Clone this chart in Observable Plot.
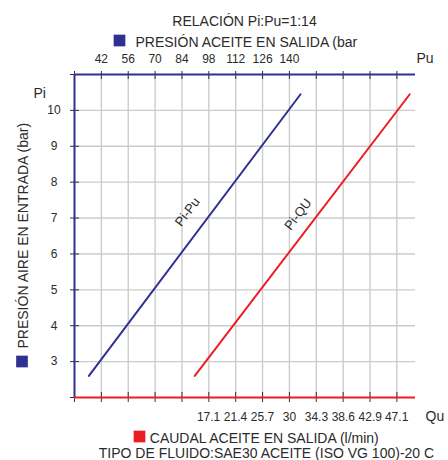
<!DOCTYPE html>
<html>
<head>
<meta charset="utf-8">
<script src="https://cdn.jsdelivr.net/npm/d3@7"></script>
<script src="https://cdn.jsdelivr.net/npm/@observablehq/plot@0.6"></script>
<style>
  html, body { margin: 0; padding: 0; background: #fff; }
</style>
</head>
<body>
<div id="chart"></div>
<script>
// ---- data ----
const piValues = [2.6, 10.45];      // Pi, air pressure in (bar)
const puValues = [35.5, 145.8];     // Pu, oil pressure out (bar)
const quValues = [14.9, 49.2];      // Qu, oil flow out (l/min)
const puTicks = [42, 56, 70, 84, 98, 112, 126, 140];
const tickPositions = [28, 42, 56, 70, 84, 98, 112, 126, 140, 154, 168, 182, 196];
const quTickLabels = ["17.1", "21.4", "25.7", "30", "34.3", "38.6", "42.9", "47.1"];
const piTicks = [3, 4, 5, 6, 7, 8, 9, 10];
const piTickMarks = [2, 3, 4, 5, 6, 7, 8, 9, 10, 11];
const lineLabels = ["Pi-Pu", "Pi-QU"];

const BLUE = "#2e3192";
const RED = "#ed1c24";
const GRID = "#cccccc";
const INK = "#2b2b2b";

// Qu shares the horizontal grid with Pu: one grid step = 14 bar = 30/7 l/min, Qu 0 at Pu 42
const quToX = q => 42 + q * 14 / (30 / 7);

const rows = piValues.map((p, i) => ({pi: p, pu: puValues[i], qu: quValues[i]}));
const t = 0.54;
const lerp = (a, b) => a + (b - a) * t;
const bluePoint = [{x: lerp(puValues[0], puValues[1]), y: lerp(piValues[0], piValues[1]), text: lineLabels[0]}];
const redPoint = [{x: quToX(lerp(quValues[0], quValues[1])), y: lerp(piValues[0], piValues[1]), text: lineLabels[1]}];

const chart = Plot.plot({
  width: 448,
  height: 460,
  marginLeft: 74,
  marginRight: 33,
  marginTop: 74,
  marginBottom: 63,
  x: {domain: [28, 205.7]},
  y: {domain: [2, 11]},
  style: {fontFamily: "'Liberation Sans', Arial, sans-serif", color: INK, background: "#fff"},
  marks: [
    // grid
    Plot.ruleX(tickPositions.slice(1), {stroke: GRID, strokeWidth: 1.4}),
    Plot.ruleY(piTicks, {stroke: GRID, strokeWidth: 1.4}),
    // tick marks (crossing the axis lines)
    Plot.axisY(piTickMarks, {anchor: "left", tickSize: 9, insetLeft: 5, tickFormat: () => "", stroke: "#333"}),
    Plot.axisX(tickPositions, {anchor: "top", tickSize: 8, insetTop: 4, tickFormat: () => "", stroke: "#333"}),
    Plot.axisX(tickPositions, {anchor: "bottom", tickSize: 10, insetBottom: 5, tickFormat: () => "", stroke: "#333"}),
    // axis lines
    Plot.ruleY([11], {stroke: BLUE, strokeWidth: 2}),
    Plot.ruleX([28], {stroke: BLUE, strokeWidth: 2}),
    Plot.ruleY([2], {stroke: RED, strokeWidth: 2}),
    // data lines
    Plot.line(rows, {x: "pu", y: "pi", stroke: BLUE, strokeWidth: 2}),
    Plot.line(rows, {x: d => quToX(d.qu), y: "pi", stroke: RED, strokeWidth: 2}),
    // line labels
    Plot.text(bluePoint, {x: "x", y: "y", text: "text", dx: -15.7, dy: -11.8, rotate: -53, fontSize: 13, fill: INK,
      textAnchor: "middle", lineAnchor: "middle"}),
    Plot.text(redPoint, {x: "x", y: "y", text: "text", dx: -12.7, dy: -9.5, rotate: -53, fontSize: 13, fill: INK,
      textAnchor: "middle", lineAnchor: "middle"}),
    // tick labels
    Plot.text(puTicks, {x: d => d, text: d => String(d), frameAnchor: "top", dy: -12, lineAnchor: "bottom", fontSize: 12, fill: INK}),
    Plot.text(quTickLabels, {x: d => quToX(+d), text: d => d, frameAnchor: "bottom", dy: 23, lineAnchor: "bottom", fontSize: 12, fill: INK}),
    Plot.text(piTicks, {y: d => d, text: d => String(d), frameAnchor: "left", dx: -20.5, textAnchor: "middle", fontSize: 12, fill: INK}),
    // titles / legends
    Plot.text(["RELACIÓN Pi:Pu=1:14"], {frameAnchor: "top-left", dx: 170, dy: -49, textAnchor: "middle", lineAnchor: "bottom", fontSize: 14, fill: INK}),
    Plot.dot([0], {frameAnchor: "top-left", dx: 45, dy: -34, symbol: "square", r: 6.6, fill: BLUE, stroke: null}),
    Plot.text(["PRESIÓN ACEITE EN SALIDA (bar"], {frameAnchor: "top-left", dx: 61, dy: -28, textAnchor: "start", lineAnchor: "bottom", fontSize: 14, fill: INK}),
    Plot.text(["Pu"], {frameAnchor: "top-left", dx: 342, dy: -12, textAnchor: "start", lineAnchor: "bottom", fontSize: 14, fill: INK}),
    Plot.text(["Pi"], {frameAnchor: "top-left", dx: -41, dy: 23, textAnchor: "start", lineAnchor: "bottom", fontSize: 14, fill: INK}),
    Plot.text(["PRESIÓN AIRE EN ENTRADA (bar)"], {frameAnchor: "top-left", dx: -46.5, dy: 274, rotate: -90, textAnchor: "start", lineAnchor: "bottom", fontSize: 14, fill: INK}),
    Plot.dot([0], {frameAnchor: "top-left", dx: -52.5, dy: 287, symbol: "square", r: 6.6, fill: BLUE, stroke: null}),
    Plot.text(["Qu"], {frameAnchor: "bottom-left", dx: 351, dy: 23, textAnchor: "start", lineAnchor: "bottom", fontSize: 14, fill: INK}),
    Plot.dot([0], {frameAnchor: "bottom-left", dx: 65, dy: 39, symbol: "square", r: 6.6, fill: RED, stroke: null}),
    Plot.text(["CAUDAL ACEITE EN SALIDA (l/min)"], {frameAnchor: "bottom-left", dx: 75.3, dy: 45, textAnchor: "start", lineAnchor: "bottom", fontSize: 14, fill: INK}),
    Plot.text(["TIPO DE FLUIDO:SAE30 ACEITE (ISO VG 100)-20 C"], {frameAnchor: "bottom-left", dx: 24.3, dy: 60.5, textAnchor: "start", lineAnchor: "bottom", fontSize: 14, fill: INK})
  ]
});
document.getElementById("chart").appendChild(chart);
</script>
</body>
</html>
